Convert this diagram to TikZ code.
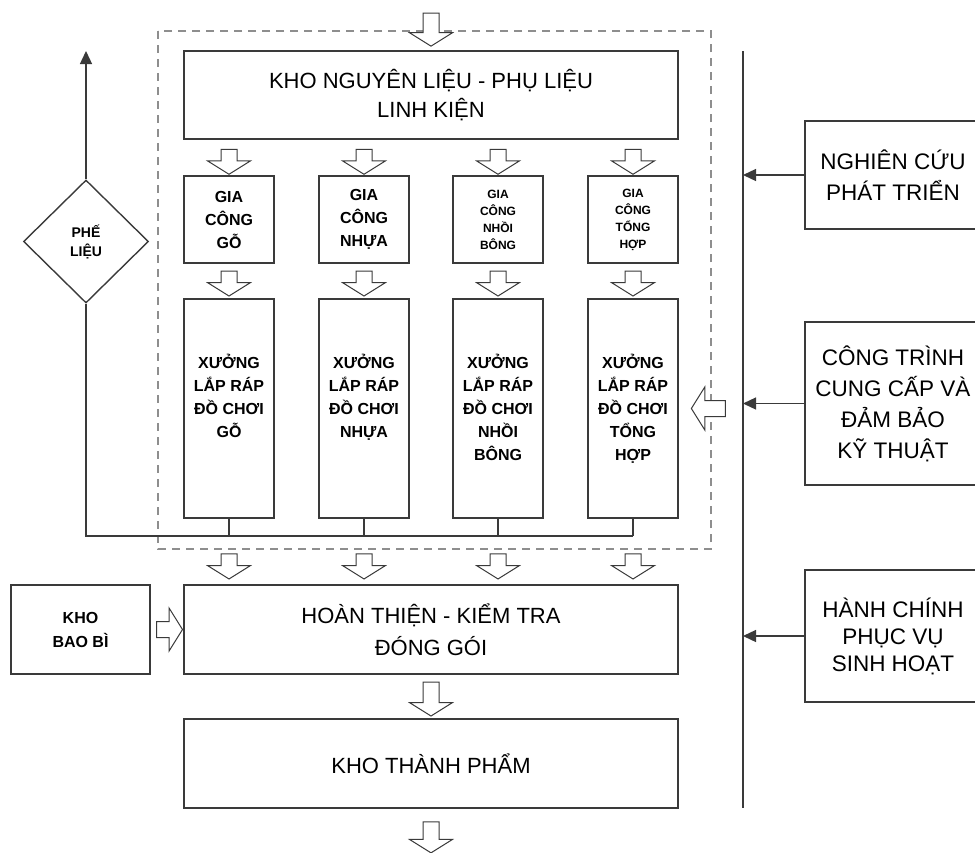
\documentclass[tikz,border=0pt]{standalone}
\usepackage{fontspec}
\setmainfont{Liberation Sans}
\usetikzlibrary{positioning,shapes.geometric,shapes.arrows,arrows.meta}
\definecolor{inkgray}{HTML}{3A3A3A}
\definecolor{dashgray}{HTML}{8E8E8E}
\tikzset{
  box/.style={draw=inkgray, line width=1.4pt, align=center, inner sep=0pt},
  wide/.style={box, minimum width=494pt, minimum height=88pt},
  cell/.style={box, minimum width=90pt, minimum height=87pt},
  tall/.style={box, minimum width=90pt, minimum height=219pt},
  side/.style={box, minimum width=176pt},
  bigtxt/.style={font=\fontsize{22}{29}\selectfont},
  sidetxt/.style={font=\fontsize{22.5}{31}\selectfont},
  cellbig/.style={font=\bfseries\fontsize{16}{23}\selectfont},
  cellsmall/.style={font=\bfseries\fontsize{12}{17}\selectfont},
  blk/.style={single arrow, draw=inkgray, fill=white, line width=1pt,
    inner xsep=0pt, inner ysep=7.5pt, single arrow head extend=13.5pt,
    single arrow tip angle=116, minimum height=25pt},
  line/.style={draw=inkgray, line width=1.3pt},
  feed/.style={line, -{Triangle[length=13pt,width=12pt]}},
  frame/.style={draw=dashgray, line width=1.2pt, dash pattern=on 8pt off 6pt}
}
\begin{document}
\begin{tikzpicture}[x=1pt, y=-1pt]
\useasboundingbox (0,0) rectangle (975,852);
\clip (0,0) rectangle (975,852);

% khung cac xuong
\draw[frame] (158,31) rectangle (711,549);

\node[wide, bigtxt] (kho) at (431,95) {KHO NGUYÊN LIỆU - PHỤ LIỆU\\LINH KIỆN};

\node[cell, cellbig]   (g1) at (229,219.5) {GIA\\CÔNG\\GỖ};
\node[cell, cellbig]   (g2) at (364,219.5) {GIA\\CÔNG\\NHỰA};
\node[cell, cellsmall] (g3) at (498,219.5) {GIA\\CÔNG\\NHỒI\\BÔNG};
\node[cell, cellsmall] (g4) at (633,219.5) {GIA\\CÔNG\\TỔNG\\HỢP};

\node[tall] (x1) at (229,408.5) {};
\node[tall] (x2) at (364,408.5) {};
\node[tall] (x3) at (498,408.5) {};
\node[tall] (x4) at (633,408.5) {};
\node[cellbig, align=center, inner sep=0pt, below=56pt of x1.north] (x1t) {XƯỞNG\\LẮP RÁP\\ĐỒ CHƠI\\GỖ};
\node[cellbig, align=center, inner sep=0pt, below=56pt of x2.north] (x2t) {XƯỞNG\\LẮP RÁP\\ĐỒ CHƠI\\NHỰA};
\node[cellbig, align=center, inner sep=0pt, below=56pt of x3.north] (x3t) {XƯỞNG\\LẮP RÁP\\ĐỒ CHƠI\\NHỒI\\BÔNG};
\node[cellbig, align=center, inner sep=0pt, below=56pt of x4.north] (x4t) {XƯỞNG\\LẮP RÁP\\ĐỒ CHƠI\\TỔNG\\HỢP};

\node[wide, bigtxt, minimum height=89pt] (hoan) at (431,629.5) {HOÀN THIỆN - KIỂM TRA\\[3pt]ĐÓNG GÓI};
\node[wide, bigtxt, minimum height=89pt] (tp) at (431,763.5) {KHO THÀNH PHẨM};
\node[box, font=\bfseries\fontsize{16}{24}\selectfont, minimum width=139pt, minimum height=89pt] (bao) at (80.5,629.5) {KHO\\BAO BÌ};

\node[diamond, draw=inkgray, line width=1.4pt, aspect=1, inner sep=0pt,
  minimum width=125pt, minimum height=123pt, align=center,
  font=\bfseries\fontsize{14}{19}\selectfont] (pl) at (86,241.5) {PHẾ\\LIỆU};

\node[side, sidetxt, minimum height=108pt] (nc) at (893,175) {NGHIÊN CỨU\\PHÁT TRIỂN};
\node[side, sidetxt, minimum height=163pt] (ct) at (893,403.5) {CÔNG TRÌNH\\CUNG CẤP VÀ\\ĐẢM BẢO\\KỸ THUẬT};
\node[side, sidetxt, font=\fontsize{22.5}{27}\selectfont, minimum height=132pt] (hc) at (893,636) {HÀNH CHÍNH\\PHỤC VỤ\\SINH HOẠT};

\coordinate (feedin) at (431,4);
\coordinate (feedout) at (431,861);
\coordinate (bustop) at (743,51);
\coordinate (busbot) at (743,808);
\coordinate (scrap) at (86,51);
\coordinate (join) at (86,536);

% mui ten rong
\path (feedin) -- node[blk, rotate=-90, minimum height=33pt] {} (kho.north);
\foreach \i in {1,...,4} {
  \path (kho.south -| g\i) -- node[blk, rotate=-90, pos=0.55] {} (g\i.north);
  \path (g\i.south) -- node[blk, rotate=-90] {} (x\i.north);
  \path (x\i.south) -- node[blk, rotate=-90, pos=0.69] {} (hoan.north -| x\i);
}
\path (bao.east) -- node[blk, minimum height=26pt] {} (hoan.west);
\path (hoan.south) -- node[blk, rotate=-90, minimum height=34pt] {} (tp.north);
\path (tp.south) -- node[blk, rotate=-90, minimum height=31pt] {} (feedout);
\path (x4.east -| bustop) -- node[blk, rotate=180, minimum height=34pt] {} (x4.east);

% duong thu phe lieu
\draw[line] (pl.south) -- (join) -- (join -| x4.south);
\foreach \i in {1,...,4}
  \draw[line] (x\i.south) -- (x\i.south |- join);
\draw[feed] (pl.north) -- (scrap);

% truc phu tro
\draw[line] (bustop) -- (busbot);
\draw[feed] (nc.west) -- (nc.west -| bustop);
\draw[feed] (ct.west) -- (ct.west -| bustop);
\draw[feed] (hc.west) -- (hc.west -| bustop);
\end{tikzpicture}
\end{document}
